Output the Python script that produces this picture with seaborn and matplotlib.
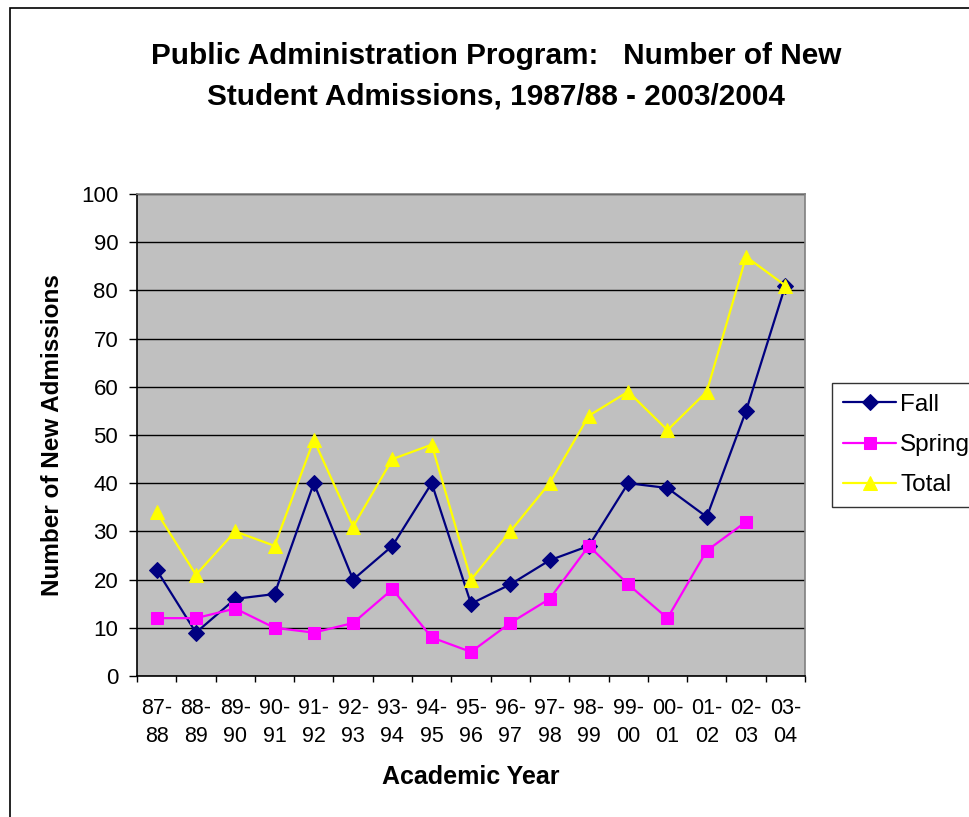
import matplotlib
matplotlib.use("Agg")
import matplotlib.pyplot as plt
from matplotlib.patches import Rectangle
from matplotlib.ticker import FixedLocator, MultipleLocator
import seaborn as sns
import pandas as pd
import numpy as np

# dados
years = ["87-\n88", "88-\n89", "89-\n90", "90-\n91", "91-\n92", "92-\n93", "93-\n94",
         "94-\n95", "95-\n96", "96-\n97", "97-\n98", "98-\n99", "99-\n00", "00-\n01",
         "01-\n02", "02-\n03", "03-\n04"]
fall = [22, 9, 16, 17, 40, 20, 27, 40, 15, 19, 24, 27, 40, 39, 33, 55, 81]
spring = [12, 12, 14, 10, 9, 11, 18, 8, 5, 11, 16, 27, 19, 12, 26, 32, np.nan]
total = [34, 21, 30, 27, 49, 31, 45, 48, 20, 30, 40, 54, 59, 51, 59, 87, 81]

df = pd.DataFrame({"pos": range(len(years)), "Fall": fall, "Spring": spring, "Total": total})

sns.set_style("white")
plt.rcParams["font.family"] = ["Liberation Sans", "DejaVu Sans"]
plt.rcParams["text.color"] = "black"
plt.rcParams["axes.labelcolor"] = "black"
plt.rcParams["xtick.color"] = "black"
plt.rcParams["ytick.color"] = "black"

fig = plt.figure(figsize=(9.69, 8.17), dpi=100)
ax = fig.add_axes([137 / 969, 1 - 676 / 817, (805 - 137) / 969, (676 - 194) / 817])
ax.set_facecolor("#C0C0C0")

# Fall, Spring e Total
series = [("Fall", "#000080", "D", 8.5), ("Spring", "#FF00FF", "s", 8), ("Total", "#FFFF00", "^", 10)]
for name, cor, mk, ms in series:
    sns.lineplot(data=df, x="pos", y=name, ax=ax, color=cor, marker=mk, markersize=ms,
                 markeredgecolor=cor, linewidth=1.6, label=name)

ax.set_xlim(-0.5, len(years) - 0.5)
ax.set_ylim(0, 100)
ax.yaxis.set_major_locator(MultipleLocator(10))
ax.grid(axis="y", color="black", linewidth=1)
ax.set_axisbelow(True)

ax.set_xticks(range(len(years)))
ax.set_xticklabels(years, fontsize=15.5, linespacing=1.45)
ax.xaxis.set_minor_locator(FixedLocator(np.arange(-0.5, len(years), 1)))
ax.tick_params(axis="x", which="major", length=0, pad=16)
ax.tick_params(axis="x", which="minor", length=4.5, width=1, color="black", direction="out", bottom=True)
ax.tick_params(axis="y", length=5.5, width=1, color="black", direction="out", left=True, labelsize=16, pad=8)

for s in ["top", "right"]:
    ax.spines[s].set_color("#808080")
for s in ["left", "bottom"]:
    ax.spines[s].set_color("black")
for s in ax.spines.values():
    s.set_linewidth(1.2)

ax.set_xlabel("Academic Year", fontsize=18, fontweight="bold", labelpad=13)
ax.set_ylabel("Number of New Admissions", fontsize=17.5, fontweight="bold", labelpad=12)

fig.text(0.512, 0.907, "Public Administration Program:   Number of New\nStudent Admissions, 1987/88 - 2003/2004",
         ha="center", va="center", fontsize=21.4, fontweight="bold", linespacing=1.55)

leg = ax.legend(loc="upper left", bbox_to_anchor=(832 / 969, 1 - 383 / 817), bbox_transform=fig.transFigure,
                fontsize=17.5, frameon=True, fancybox=False, borderaxespad=0, handlelength=2.2,
                handletextpad=0.15, labelspacing=0.75, borderpad=0.45)
leg.get_frame().set_edgecolor("black")
leg.get_frame().set_linewidth(1)

# borda da area do grafico
fig.patches.append(Rectangle((10 / 969, -0.1), 1.2, 1 - 8 / 817 + 0.1, transform=fig.transFigure,
                             fill=False, edgecolor="black", linewidth=1.2))

fig.savefig("out.png", dpi=100)
